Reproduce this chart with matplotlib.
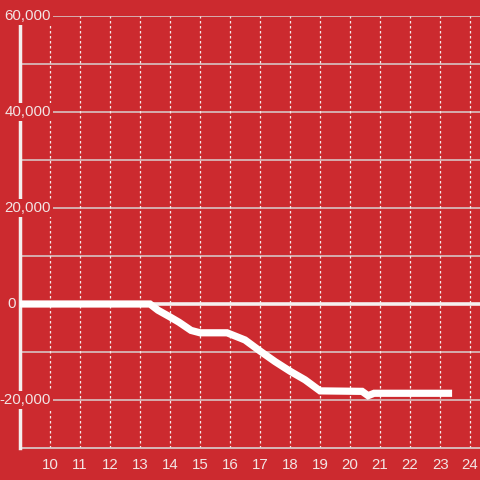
import matplotlib
matplotlib.use("Agg")
import matplotlib.pyplot as plt
import matplotlib.transforms as mtransforms

hours = [9.0, 13.33, 13.6, 14.0, 14.3, 14.7, 15.0, 15.9, 16.5, 17.0, 17.5, 18.0, 18.5, 19.0, 20.4, 20.6, 20.8, 23.4]
values = [0, 0, -1300, -2700, -3800, -5500, -6000, -6000, -7500, -9800, -12000, -14000, -15800, -18100, -18200, -19100, -18600, -18600]
xticks = list(range(10, 25))
yticks = [-20000, 0, 20000, 40000, 60000]
ytick_labels = ["-20,000", "0", "20,000", "40,000", "60,000"]

bg = "#cc2a2f"
fg = "#f2e4e4"

plt.rcParams['font.family'] = ['Liberation Sans', 'DejaVu Sans']
fig = plt.figure(figsize=(4.8, 4.8), dpi=100, facecolor=bg)
ax = fig.add_axes([20/480, 1 - 448/480, 1 - 20/480, (448 - 16)/480])
ax.set_facecolor(bg)
ax.set_xlim(9.0, 24.33)
ax.set_ylim(-30000, 60000)

# grid
for y in range(-20000, 60001, 10000):
    if y == 0:
        continue
    ax.axhline(y, color="#d9d0d0", lw=1.1, zorder=1)
for x in xticks:
    ax.axvline(x, color="#f4eaea", lw=0.9, ls=(0, (2, 2)), zorder=1)
ax.axhline(0, color="#f6f0f0", lw=2.6, zorder=2)

ax.plot(hours, values, color="white", lw=5.2, solid_capstyle="butt",
        solid_joinstyle="miter", zorder=6, clip_on=False)

for s in ["top", "right"]:
    ax.spines[s].set_visible(False)
ax.spines["left"].set_color("#f4eeee")
ax.spines["left"].set_linewidth(2.5)
ax.spines["left"].set_zorder(3)
ax.spines["bottom"].set_color("#d9d0d0")
ax.spines["bottom"].set_linewidth(1.2)

ax.set_xticks(xticks)
ax.set_xticklabels([str(v) for v in xticks])
ax.tick_params(axis="x", length=0, pad=7, labelsize=10.8, labelcolor=fg)
ax.set_yticks([])

trans = mtransforms.blended_transform_factory(fig.transFigure, ax.transData)
for y, lab in zip(yticks, ytick_labels):
    if lab == "0":
        xpos, ha = 7.5 / 480, "left"
    else:
        xpos, ha = 51 / 480, "right"
    ax.text(xpos, y, lab, transform=trans, ha=ha, va="center", fontsize=10.8,
            color=fg, zorder=5, clip_on=False,
            bbox=dict(boxstyle="square,pad=0.12", fc=bg, ec="none"))

fig.savefig("out.png", dpi=100, facecolor=bg)
